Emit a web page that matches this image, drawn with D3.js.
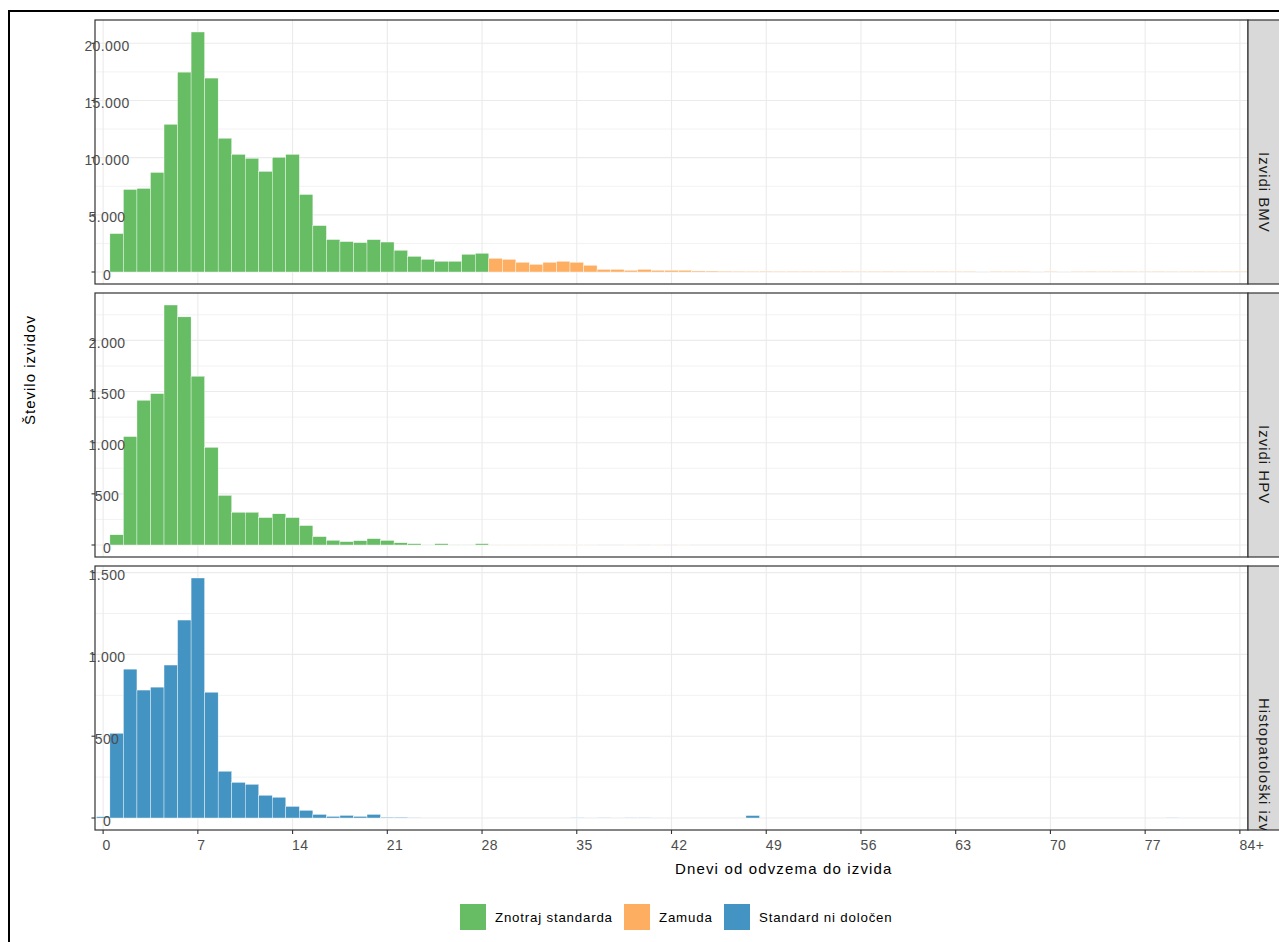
<!DOCTYPE html>
<html>
<head>
<meta charset="utf-8">
<script src="https://cdn.jsdelivr.net/npm/d3@7"></script>
<style>
  body { margin: 0; background: #fff; }
  svg { display: block; font-family: "Liberation Sans", Arial, sans-serif; }
</style>
</head>
<body>
<div id="vis"></div>
<script>
// days 0..84 (84 = "84+")
var days = d3.range(0, 85);
var xTicks = [0, 7, 14, 21, 28, 35, 42, 49, 56, 63, 70, 77, 84];
var xTickLabels = ["0", "7", "14", "21", "28", "35", "42", "49", "56", "63", "70", "77", "84+"];

var panelNames = ["Izvidi BMV", "Izvidi HPV", "Histopatološki izvidi"];
var legendNames = ["Znotraj standarda", "Zamuda", "Standard ni določen"];
var legendColors = ["#66bd63", "#fdae61", "#4393c3"];

var bmvVals = [
  0, 3360, 7220, 7310, 8710, 12920, 17480,
  20990, 16960, 11700, 10290, 9940, 8800, 10030,
  10290, 6780, 4060, 2840, 2660, 2570, 2830,
  2620, 1900, 1370, 1110, 940, 940, 1550,
  1640, 1200, 1110, 850, 670, 850, 940,
  850, 590, 230, 230, 150, 230, 150,
  150, 150, 90, 85, 75, 70, 65,
  70, 60, 65, 65, 60, 65, 60,
  55, 60, 65, 55, 60, 55, 60,
  55, 55, 0, 55, 50, 55, 0,
  55, 0, 50, 55, 50, 55, 50,
  50, 55, 50, 50, 55, 50, 55,
  60
];
var hpvVals = [
  0, 100, 1060, 1415, 1480, 2346, 2230,
  1650, 955, 485, 320, 320, 268, 305,
  268, 190, 82, 46, 33, 42, 62,
  45, 22, 13, 2, 13, 2, 2,
  13, 2, 2, 2, 2, 2, 2,
  2, 2, 0, 0, 2, 0, 2,
  0, 2, 0, 0, 0, 0, 0,
  0, 0, 0, 0, 0, 0, 0,
  0, 0, 0, 0, 0, 0, 0,
  0, 0, 0, 0, 0, 0, 0,
  0, 0, 0, 0, 0, 0, 0,
  0, 0, 0, 0, 0, 0, 0,
  0
];
var histVals = [
  8, 518, 910, 782, 800, 935, 1210,
  1467, 769, 286, 218, 206, 139, 127,
  71, 47, 22, 10, 16, 10, 22,
  5, 5, 1, 0, 0, 0, 0,
  0, 0, 0, 0, 0, 0, 0,
  2, 0, 2, 0, 2, 2, 0,
  0, 0, 0, 0, 0, 0, 15,
  0, 0, 0, 0, 0, 0, 0,
  0, 0, 0, 0, 0, 0, 0,
  0, 0, 0, 0, 0, 0, 0,
  0, 0, 0, 0, 0, 0, 0,
  0, 0, 2, 0, 0, 0, 0,
  0
];
var standardLimit = 28;   // days; null = no standard

var panels = [
  {name: panelNames[0], vals: bmvVals, limit: standardLimit},
  {name: panelNames[1], vals: hpvVals, limit: standardLimit},
  {name: panelNames[2], vals: histVals, limit: null}
];

var opts = {
  width: 1279,
  height: 942,
  left: 95,
  right: 1248,
  strip_w: 36,
  tops: [20, 293, 566],
  panel_h: 264
};

var fmt = d3.formatLocale({decimal: ",", thousands: ".", grouping: [3], currency: ["", ""]}).format(",d");

var svg = d3.select("#vis").append("svg")
  .attr("width", opts.width)
  .attr("height", opts.height);

svg.append("rect")
  .attr("width", opts.width).attr("height", opts.height).attr("fill", "#fff");

// page frame
svg.append("rect")
  .attr("x", 9).attr("y", 11).attr("width", 1400).attr("height", 1100)
  .attr("fill", "none").attr("stroke", "#000").attr("stroke-width", 2);

var defs = svg.append("defs");
var x = d3.scaleLinear().domain([-0.6, 84.6]).range([opts.left, opts.right]);

panels.forEach(function(p, i) {
  var top = opts.tops[i];
  var bottom = top + opts.panel_h;
  var maxV = d3.max(p.vals);
  var y = d3.scaleLinear()
    .domain([-0.05 * maxV, 1.05 * maxV])
    .range([bottom, top]);
  var g = svg.append("g");

  var major = y.ticks(5);
  var step = major[1] - major[0];
  var minor = major.map(function(t) { return t + step / 2; })
    .filter(function(t) { return t < y.domain()[1]; });

  g.selectAll(".minor").data(minor).enter().append("line")
    .attr("x1", opts.left).attr("x2", opts.right)
    .attr("y1", function(d) { return y(d); }).attr("y2", function(d) { return y(d); })
    .attr("stroke", "#f2f2f2").attr("stroke-width", 1);
  g.selectAll(".major").data(major).enter().append("line")
    .attr("x1", opts.left).attr("x2", opts.right)
    .attr("y1", function(d) { return y(d); }).attr("y2", function(d) { return y(d); })
    .attr("stroke", "#ebebeb").attr("stroke-width", 1.1);
  g.selectAll(".vgrid").data(xTicks).enter().append("line")
    .attr("x1", function(d) { return x(d); }).attr("x2", function(d) { return x(d); })
    .attr("y1", top).attr("y2", bottom)
    .attr("stroke", "#ebebeb").attr("stroke-width", 1.1);

  // bars
  g.selectAll(".bar").data(p.vals).enter().append("rect")
    .attr("x", function(d, j) { return x(days[j] - 0.5); })
    .attr("width", function(d, j) { return x(days[j] + 0.5) - x(days[j] - 0.5); })
    .attr("y", function(d) { return y(d); })
    .attr("height", function(d) { return y(0) - y(d); })
    .attr("fill", function(d, j) {
      if (p.limit === null) return legendColors[2];
      return days[j] <= p.limit ? legendColors[0] : legendColors[1];
    })
    .attr("stroke", "#fff").attr("stroke-width", 0.4);

  // panel border
  g.append("rect")
    .attr("x", opts.left).attr("y", top)
    .attr("width", opts.right - opts.left).attr("height", opts.panel_h)
    .attr("fill", "none").attr("stroke", "#333").attr("stroke-width", 1.2);

  // y ticks + labels
  g.selectAll(".ytick").data(major).enter().append("line")
    .attr("x1", opts.left - 3.5).attr("x2", opts.left)
    .attr("y1", function(d) { return y(d); }).attr("y2", function(d) { return y(d); })
    .attr("stroke", "#333").attr("stroke-width", 1.1);
  g.selectAll(".ylab").data(major).enter().append("text")
    .attr("x", 107).attr("y", function(d) { return y(d) + 2.5; })
    .attr("text-anchor", "middle").attr("dominant-baseline", "central")
    .attr("font-size", 14).attr("letter-spacing", 0.4).attr("fill", "#4d4d4d")
    .text(function(d) { return fmt(d); });

  // strip (text clipped to the strip box)
  defs.append("clipPath").attr("id", "strip" + i)
    .append("rect")
    .attr("x", opts.right).attr("y", top)
    .attr("width", opts.strip_w).attr("height", opts.panel_h);
  g.append("rect")
    .attr("x", opts.right).attr("y", top)
    .attr("width", opts.strip_w).attr("height", opts.panel_h)
    .attr("fill", "#d9d9d9").attr("stroke", "#333").attr("stroke-width", 1.2);
  g.append("g").attr("clip-path", "url(#strip" + i + ")")
    .append("text")
    .attr("transform", "translate(" + (opts.right + 16) + "," + (top + opts.panel_h / 2) + ") rotate(90)")
    .attr("text-anchor", "start").attr("dominant-baseline", "central")
    .attr("font-size", 15).attr("letter-spacing", 1).attr("fill", "#1a1a1a")
    .text(p.name);
});

// x axis (bottom panel)
var axisY = opts.tops[2] + opts.panel_h;
svg.selectAll(".xtick").data(xTicks).enter().append("line")
  .attr("x1", function(d) { return x(d); }).attr("x2", function(d) { return x(d); })
  .attr("y1", axisY).attr("y2", axisY + 4)
  .attr("stroke", "#333").attr("stroke-width", 1.1);
svg.selectAll(".xlab").data(xTicks).enter().append("text")
  .attr("x", function(d) { return x(d) - 0.5; })
  .attr("y", 850)
  .attr("text-anchor", "start")
  .attr("font-size", 14).attr("letter-spacing", 0.4).attr("fill", "#4d4d4d")
  .text(function(d, i) { return xTickLabels[i]; });

// axis titles
svg.append("text")
  .attr("x", 675).attr("y", 874)
  .attr("font-size", 15).attr("letter-spacing", 1.15).attr("fill", "#000")
  .text("Dnevi od odvzema do izvida");
svg.append("text")
  .attr("transform", "translate(29,425) rotate(-90)")
  .attr("dominant-baseline", "central")
  .attr("font-size", 15).attr("letter-spacing", 1).attr("fill", "#000")
  .text("Število izvidov");

// legend
var legendX = [460, 624, 724];
var lg = svg.selectAll(".leg").data(legendNames).enter().append("g")
  .attr("transform", function(d, i) { return "translate(" + legendX[i] + ",904)"; });
lg.append("rect")
  .attr("width", 26).attr("height", 26)
  .attr("fill", function(d, i) { return legendColors[i]; });
lg.append("text")
  .attr("x", 35).attr("y", 13)
  .attr("dominant-baseline", "central")
  .attr("font-size", 13.3).attr("letter-spacing", 0.8).attr("fill", "#000")
  .text(function(d) { return d; });
</script>
</body>
</html>
